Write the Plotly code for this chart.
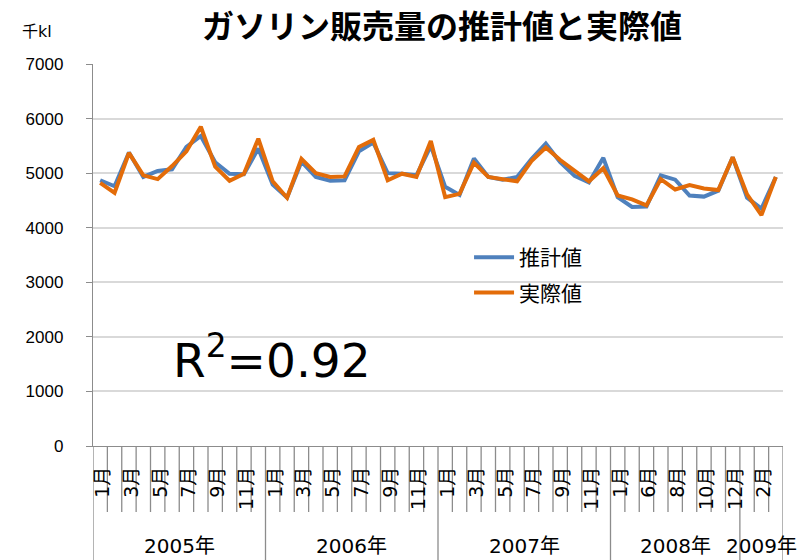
import plotly.graph_objects as go

# Monthly gasoline sales (thousand kl): model estimate vs. actual
year_labels = ["2005年", "2006年", "2007年", "2008年", "2009年"]
months_2005 = ["1月", "2月", "3月", "4月", "5月", "6月", "7月", "8月", "9月", "10月", "11月", "12月"]
months_2006 = ["1月", "2月", "3月", "4月", "5月", "6月", "7月", "8月", "9月", "10月", "11月", "12月"]
months_2007 = ["1月", "2月", "3月", "4月", "5月", "6月", "7月", "8月", "9月", "10月", "11月", "12月"]
months_2008 = ["1月", "5月", "6月", "7月", "8月", "9月", "10月", "11月", "12月"]
months_2009 = ["1月", "2月", "3月"]
months_by_year = [months_2005, months_2006, months_2007, months_2008, months_2009]

estimated = [
    4870, 4760, 5380, 4930, 5040, 5070, 5480, 5680, 5200, 4990, 4980, 5450,
    4790, 4550, 5210, 4930, 4860, 4870, 5400, 5560, 5000, 4990, 4960, 5500,
    4750, 4600, 5270, 4930, 4880, 4930, 5260, 5540, 5200, 4950, 4830, 5280,
    4560, 4380, 4390, 4960, 4880, 4590, 4570, 4680, 5290,
    4550, 4350, 4930,
]
actual = [
    4820, 4640, 5370, 4960, 4890, 5130, 5400, 5850, 5120, 4860, 4990, 5630,
    4850, 4550, 5260, 5000, 4930, 4940, 5480, 5610, 4870, 4990, 4930, 5590,
    4560, 4620, 5190, 4930, 4890, 4850, 5220, 5470, 5240, 5040, 4850, 5090,
    4590, 4520, 4410, 4890, 4700, 4780, 4720, 4690, 5290,
    4610, 4230, 4930,
]
r_squared = "0.92"

FONT = "DejaVu Sans, Noto Sans CJK JP, sans-serif"
NARROW = "Liberation Sans, sans-serif"
AXIS_GREY = "#8c8c8c"
GRID_GREY = "#d9d9d9"
BLUE = "#4F81BD"
ORANGE = "#E36C09"

month_labels = [m for ms in months_by_year for m in ms]
n = len(month_labels)
xs = list(range(n))

fig = go.Figure()
fig.add_trace(go.Scatter(x=xs, y=estimated, mode="lines", name="推計値",
                         legendgroup="a", line=dict(color=BLUE, width=4)))
fig.add_trace(go.Scatter(x=xs, y=actual, mode="lines", name="実際値",
                         legendgroup="b", line=dict(color=ORANGE, width=4)))

# every other month is labelled on the category axis; rotated labels are
# nudged slightly right so they sit centred in their column
tick_idx = [i for i in xs if i % 2 == 0]
label_nudge = 0.2

shapes = []
annotations = []
# separators in the month row, and full-height separators between years
year_starts = []
pos = 0
for ms in months_by_year:
    year_starts.append(pos)
    pos += len(ms)
year_bounds = set(s - 0.5 for s in year_starts) | {n - 0.5}
for i in range(n + 1):
    b = i - 0.5
    long = b in year_bounds
    shapes.append(dict(type="line", xref="x", yref="paper", ysizemode="pixel", yanchor=0,
                       x0=b, x1=b, y0=0, y1=-120 if long else -66, layer="below",
                       line=dict(color=AXIS_GREY, width=1.3)))
for label, start, ms in zip(year_labels, year_starts, months_by_year):
    annotations.append(dict(text=label, xref="x", yref="paper", x=start + (len(ms) - 1) / 2,
                            y=0, yshift=-100, showarrow=False, xanchor="center",
                            yanchor="middle",
                            font=dict(family=FONT, size=20, color="#000")))

annotations.append(dict(text="R<sup>2</sup>=" + r_squared, xref="paper", yref="paper",
                        x=0.259, y=0.233, xanchor="center", yanchor="middle",
                        showarrow=False, font=dict(family=FONT, size=47, color="#000")))
annotations.append(dict(text="千kl", xref="paper", yref="paper", x=-0.081, y=1.086,
                        xanchor="center", yanchor="middle",
                        showarrow=False, font=dict(family=FONT, size=16, color="#000")))

fig.update_layout(
    width=798, height=560,
    margin=dict(l=93, r=15, t=64, b=114),
    paper_bgcolor="white", plot_bgcolor="white",
    title=dict(text="<b>ガソリン販売量の推計値と実際値</b>", x=0.554, xanchor="center",
               y=0.953, yanchor="middle",
               font=dict(family="Noto Sans CJK JP", size=32, color="#000")),
    showlegend=True,
    legend=dict(x=0.545, y=0.547, xanchor="left", yanchor="top", bgcolor="rgba(0,0,0,0)",
                font=dict(family=FONT, size=21, color="#000"), traceorder="grouped",
                tracegroupgap=5, itemwidth=40),
    xaxis=dict(range=[-0.5, n - 0.5], showgrid=False, zeroline=False,
               tickmode="array", tickvals=[i + label_nudge for i in tick_idx],
               ticktext=[month_labels[i] for i in tick_idx],
               tickangle=-90, ticks="", ticklabelstandoff=12,
               tickfont=dict(family=FONT, size=19, color="#000"),
               showline=True, linecolor=AXIS_GREY, linewidth=1.3),
    yaxis=dict(range=[0, 7000], dtick=1000, showgrid=True, gridcolor=GRID_GREY, gridwidth=1.5,
               zeroline=False, showline=True, linecolor=AXIS_GREY, linewidth=1.3,
               ticks="outside", ticklen=6, tickcolor=AXIS_GREY, ticklabelstandoff=19,
               tickfont=dict(family=NARROW, size=17, color="#000")),
    shapes=shapes,
    annotations=annotations,
)

fig.write_html("out.html")
